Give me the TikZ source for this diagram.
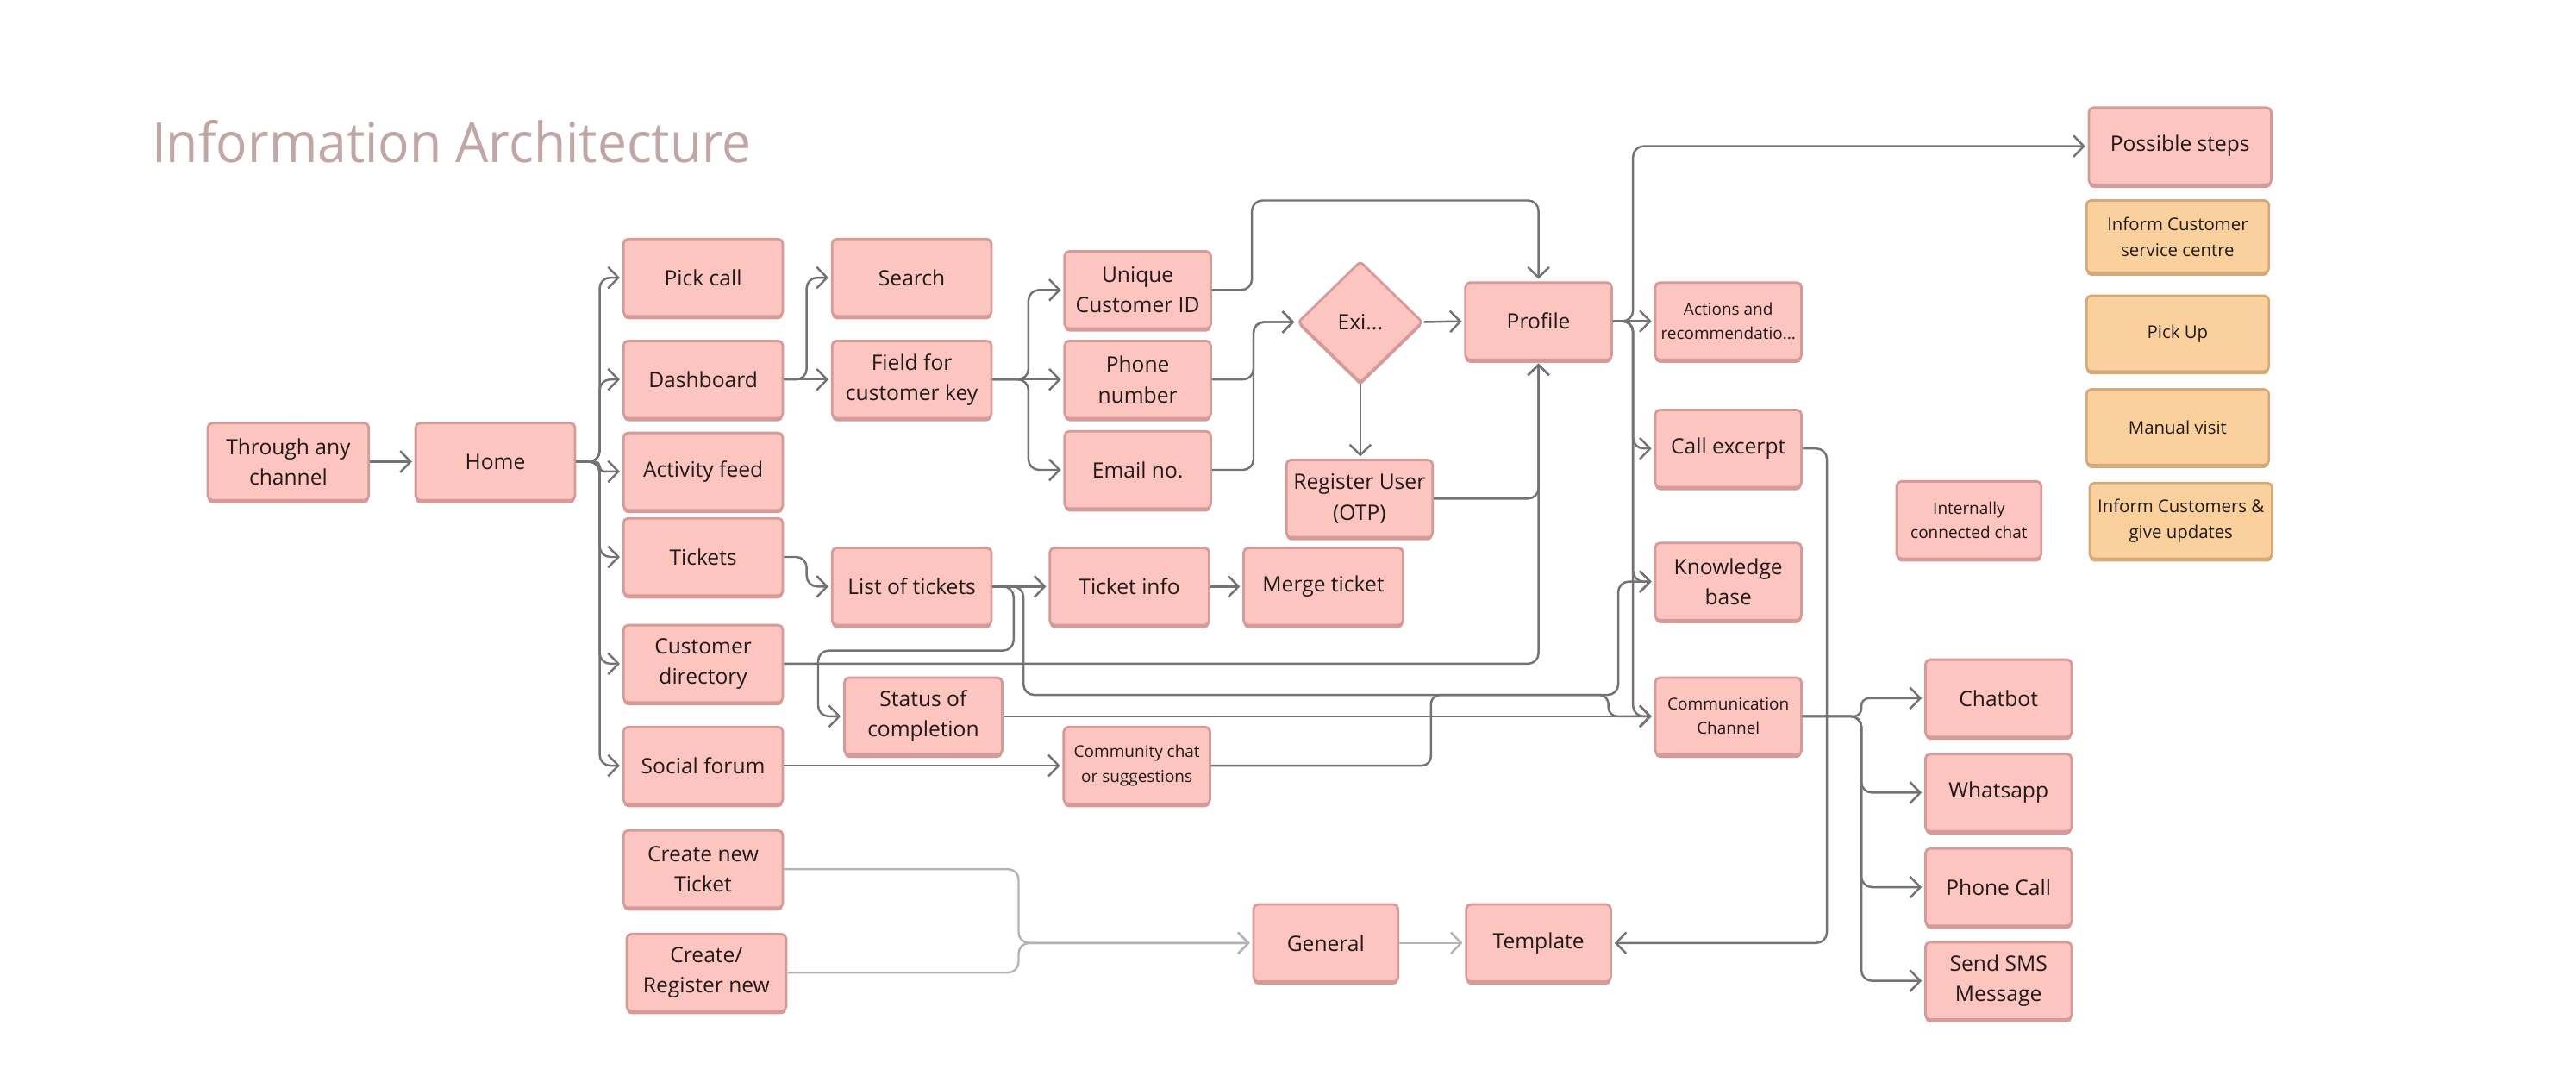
\documentclass[tikz,border=0pt]{standalone}
\usepackage{fontspec}
\usepackage{graphicx}
\setmainfont{Open Sans}
\usetikzlibrary{arrows.meta,shapes.geometric}
\definecolor{bx}{HTML}{FCC5C0}
\definecolor{bd}{HTML}{D69B98}
\definecolor{ox}{HTML}{FAD19C}
\definecolor{od}{HTML}{D6AA78}
\definecolor{ln}{HTML}{737373}
\definecolor{lln}{HTML}{B4B4B4}
\definecolor{tx}{HTML}{221A1A}
\definecolor{ttl}{HTML}{C0A6A6}
\tikzset{
  base/.style={rectangle, rounded corners=1.5pt, line width=0.8pt, align=center, inner sep=1pt, text=tx, font=\fontsize{7}{10}\selectfont},
  pbox/.style={base, draw=bd, fill=bx, preaction={fill=bd, transform canvas={yshift=-1pt}}},
  orbox/.style={base, draw=od, fill=ox, preaction={fill=od, transform canvas={yshift=-1pt}}, font=\fontsize{5.8}{8.6}\selectfont},
  smtxt/.style={font=\fontsize{5.4}{8}\selectfont},
  wh/.style 2 args={minimum width=#1*0.19056mm, minimum height=#2*0.19056mm},
  conn/.style={draw=ln, line width=0.7pt, rounded corners=3.5pt, -{Straight Barb[length=3.4pt,width=7pt]}, shorten >=0.8pt},
  lconn/.style={conn, draw=lln},
}
\begin{document}
\begin{tikzpicture}[x=0.19056mm, y=-0.19056mm]
\fill[white] (0,0) rectangle (1568,662);
\useasboundingbox (0,0) rectangle (1568,662);

\node[anchor=south west, inner sep=0, text=ttl] (title) at (92,99.5) {\resizebox{198pt}{14pt}{Information Architecture}};

\node[pbox, wh={98}{47}] (thru) at (175.5,281) {Through any\\channel};
\node[pbox, wh={97}{47}] (home) at (301.5,281) {Home};
\node[pbox, wh={97}{47}] (pick) at (428,169) {Pick call};
\node[pbox, wh={97}{47}] (dash) at (428,231) {Dashboard};
\node[pbox, wh={97}{47}] (act) at (428,287) {Activity feed};
\node[pbox, wh={97}{47}] (tick) at (428,339) {Tickets};
\node[pbox, wh={97}{47}] (cdir) at (428,404) {Customer\\directory};
\node[pbox, wh={97}{47}] (soc) at (428,466) {Social forum};
\node[pbox, wh={97}{47}] (srch) at (555,169) {Search};
\node[pbox, wh={97}{47}] (fld) at (555,231) {Field for\\customer key};
\node[pbox, wh={97}{47}] (list) at (555,357) {List of tickets};
\node[pbox, wh={96}{47}] (stat) at (562,436) {Status of\\completion};
\node[pbox, wh={89}{47}] (uid) at (692.5,176.5) {Unique\\Customer ID};
\node[pbox, wh={89}{47}] (phn) at (692.5,231) {Phone\\number};
\node[pbox, wh={89}{47}] (eml) at (692.5,286) {Email no.};
\node[pbox, diamond, rounded corners=1pt, wh={76}{74}, inner sep=0pt] (exi) at (828,196) {Exi...};
\node[pbox, wh={89}{47}] (prof) at (936.5,195.5) {Profile};
\node[pbox, wh={89}{47}] (reg) at (827.5,303.5) {Register User\\(OTP)};
\node[pbox, wh={97}{47}] (tinf) at (687.5,357) {Ticket info};
\node[pbox, wh={97}{47}] (merg) at (805.5,357) {Merge ticket};
\node[pbox, wh={89}{47}, smtxt] (comm) at (692,466) {Community chat\\or suggestions};
\node[pbox, wh={89}{47}, smtxt] (actn) at (1052,195.5) {Actions and\\recommendatio...};
\node[pbox, wh={89}{47}] (call) at (1052,273) {Call excerpt};
\node[pbox, wh={89}{47}] (kb) at (1052,354) {Knowledge\\base};
\node[pbox, wh={89}{47}, smtxt] (cch) at (1052,436) {Communication\\Channel};
\node[pbox, wh={89}{47}] (chat) at (1216.5,425) {Chatbot};
\node[pbox, wh={89}{47}] (wapp) at (1216.5,482.5) {Whatsapp};
\node[pbox, wh={89}{47}] (pcall) at (1216.5,540) {Phone Call};
\node[pbox, wh={89}{47}] (sms) at (1216.5,597) {Send SMS\\Message};
\node[pbox, wh={111}{47}] (poss) at (1327,89) {Possible steps};
\node[orbox, wh={111}{44}] (isc) at (1325.5,144) {Inform Customer\\service centre};
\node[orbox, wh={111}{46}] (pup) at (1325.5,203) {Pick Up};
\node[orbox, wh={111}{46}] (man) at (1325.5,260) {Manual visit};
\node[orbox, wh={111}{46}] (icg) at (1327.5,317) {Inform Customers \&\\give updates};
\node[pbox, wh={88}{47}, smtxt] (int) at (1198.5,316.5) {Internally\\connected chat};
\node[pbox, wh={97}{47}] (cnt) at (428,529) {Create new\\Ticket};
\node[pbox, wh={97}{47}] (crn) at (430,592) {Create/\\Register new};
\node[pbox, wh={88}{47}] (gen) at (807,574) {General};
\node[pbox, wh={88}{47}] (tmpl) at (936.5,574) {Template};

% connectors
\draw[conn] (thru.east) -- (home.west);
\draw[conn] (home.east) -- (365,281) -- (365,169) -- (pick.west);
\draw[conn] (home.east) -- (365,281) -- (365,231) -- (dash.west);
\draw[conn, rounded corners=1.5pt] (home.east) -- (365,281) -- (365,287) -- (act.west);
\draw[conn] (home.east) -- (365,281) -- (365,339) -- (tick.west);
\draw[conn] (home.east) -- (365,281) -- (365,404) -- (cdir.west);
\draw[conn] (home.east) -- (365,281) -- (365,466) -- (soc.west);

\draw[conn] (dash.east) -- (fld.west);
\draw[conn] (dash.east) -- (491,231) -- (491,169) -- (srch.west);
\draw[conn] (tick.east) -- (491,339) -- (491,357) -- (list.west);

\draw[conn] (fld.east) -- (626,231) -- (626,176.5) -- (uid.west);
\draw[conn] (fld.east) -- (phn.west);
\draw[conn] (fld.east) -- (626,231) -- (626,286) -- (eml.west);

\draw[conn] (uid.east) -- (762,176.5) -- (762,122) -- (936.5,122) -- (prof.north);
\draw[conn] (phn.east) -- (763,231) -- (763,196) -- (exi.west);
\draw[conn] (eml.east) -- (763,286) -- (763,196) -- (exi.west);
\draw[conn] (exi.east) -- (prof.west);
\draw[conn] (exi.south) -- (exi.south |- reg.north);
\draw[conn] (reg.east) -- (936.5,303.5) -- (prof.south);
\draw[conn] (cdir.east) -- (936.5,404) -- (prof.south);

\draw[conn] (list.east) -- (tinf.west);
\draw[conn] (tinf.east) -- (merg.west);
\draw[conn] (list.east) -- (617,357) -- (617,396) -- (498,396) -- (498,436) -- (stat.west);
\draw[conn] (list.east) -- (623,357) -- (623,423) -- (985,423) -- (985,354) -- (kb.west);
\draw[conn] (stat.east) -- (cch.west);
\draw[conn] (soc.east) -- (comm.west);
\draw[conn, rounded corners=3pt] (comm.east) -- (871,466) -- (871,423) -- (979,423) -- (979,436) -- (cch.west);

\draw[conn] (prof.east) -- (actn.west);
\draw[conn] (prof.east) -- (994,195.5) -- (994,273) -- (call.west);
\draw[conn] (prof.east) -- (994,195.5) -- (994,354) -- (kb.west);
\draw[conn] (prof.east) -- (994,195.5) -- (994,436) -- (cch.west);
\draw[conn] (prof.east) -- (994,195.5) -- (994,89) -- (poss.west);

\draw[conn] (call.east) -- (1112,273) -- (1112,574) -- (tmpl.east);

\draw[conn, rounded corners=2.5pt] (cch.east) -- (1133,436) -- (1133,425) -- (chat.west);
\draw[conn] (cch.east) -- (1133,436) -- (1133,482.5) -- (wapp.west);
\draw[conn] (cch.east) -- (1133,436) -- (1133,540) -- (pcall.west);
\draw[conn] (cch.east) -- (1133,436) -- (1133,597) -- (sms.west);

\draw[lconn] (cnt.east) -- (620,529) -- (620,574) -- (gen.west);
\draw[lconn] (crn.east) -- (620,592) -- (620,574) -- (gen.west);
\draw[lconn] (gen.east) -- (tmpl.west);
\end{tikzpicture}
\end{document}
